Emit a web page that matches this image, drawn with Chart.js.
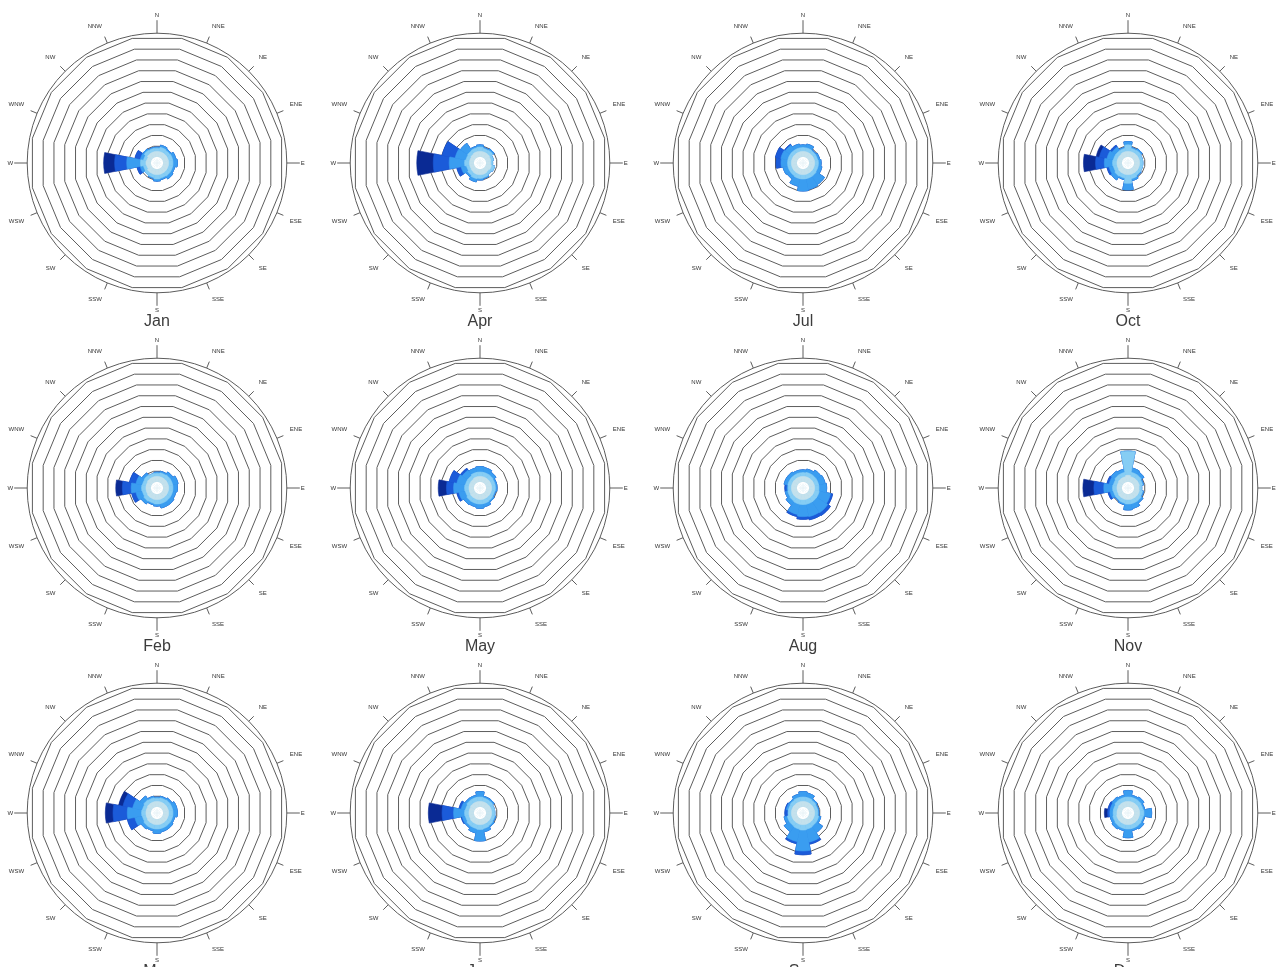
<!DOCTYPE html>
<html>
<head>
<meta charset="utf-8">
<title>Monthly wind roses</title>
<script src="https://cdn.jsdelivr.net/npm/chart.js@4.4.1/dist/chart.umd.min.js"></script>
<style>
  html, body { margin: 0; padding: 0; background: #fff; width: 1280px; height: 967px; overflow: hidden; }
  .cell { position: absolute; width: 302px; height: 302px; }
  .cell canvas { position: absolute; left: 0; top: 0; }
  .month { position: absolute; width: 120px; height: 20px; line-height: 20px; text-align: center;
           font: 16px "Liberation Sans", Arial, sans-serif; color: #3c3c3c; }
</style>
</head>
<body>
<script>
// Compass sectors, clockwise from north
const DIRECTIONS = ['N', 'NNE', 'NE', 'ENE', 'E', 'ESE', 'SE', 'SSE',
                    'S', 'SSW', 'SW', 'WSW', 'W', 'WNW', 'NW', 'NNW'];

// Wind-speed classes, calm to strong
const SPEED_BINS = ['0-2 m/s', '2-4 m/s', '4-6 m/s', '6-8 m/s', '>8 m/s'];
const BIN_COLORS = ['#c4e1ec', '#86cdf4', '#3a9df0', '#1b5bd9', '#0a2a94'];

// Frequency (%) per speed class (rows) and direction (columns)
const JAN = [
  [.5, .5, .5, .5, .5, .5, .5, .5, .5, .5, .5, .4, .45, .4, .5, .5],
  [.3, .4, .35, .4, .4, .4, .4, .35, .4, .3, .3, .3, .5, .3, .35, .3],
  [.1, .2, .15, .3, .4, .2, .3, .15, .2, .1, 0, .3, 1.25, .3, .15, .1],
  [0, 0, 0, 0, 0, 0, 0, 0, 0, 0, 0, .3, 1.1, .5, 0, 0],
  [0, 0, 0, 0, 0, 0, 0, 0, 0, 0, 0, 0, 1.0, 0, 0, 0]
];
const FEB = [
  [.5, .5, .5, .5, .5, .5, .5, .5, .5, .5, .5, .45, .45, .45, .5, .5],
  [.3, .35, .4, .4, .4, .4, .4, .4, .4, .35, .4, .35, .4, .35, .35, .3],
  [.1, .15, .3, .5, .4, .3, .4, .4, .2, .15, .3, .6, .95, .6, .25, 0],
  [0, 0, 0, 0, 0, 0, 0, 0, 0, 0, 0, .4, .8, .6, 0, 0],
  [0, 0, 0, 0, 0, 0, 0, 0, 0, 0, 0, 0, .6, 0, 0, 0]
];
const MAR = [
  [.5, .5, .5, .5, .5, .5, .5, .5, .5, .5, .5, .45, .45, .45, .5, .5],
  [.3, .35, .4, .4, .4, .4, .4, .4, .4, .4, .4, .35, .4, .35, .4, .35],
  [.1, .15, .2, .4, .4, .2, .3, .3, .4, .2, .3, .7, 1.3, .9, .4, .15],
  [0, 0, 0, 0, 0, 0, 0, 0, 0, 0, 0, .7, 1.3, .9, 0, 0],
  [0, 0, 0, 0, 0, 0, 0, 0, 0, 0, 0, 0, .7, .4, 0, 0]
];
const APR = [
  [.5, .5, .5, .45, .4, .5, .45, .5, .5, .5, .45, .4, .4, .4, .45, .5],
  [.4, .3, .35, .25, .2, .3, .25, .3, .35, .4, .35, .3, .45, .35, .35, .35],
  [.2, .1, .15, 0, 0, 0, 0, .1, .15, .3, .2, .5, 1.4, 1.0, .8, .15],
  [0, 0, 0, 0, 0, 0, 0, 0, 0, 0, 0, .4, 1.45, 1.2, 0, 0],
  [0, 0, 0, 0, 0, 0, 0, 0, 0, 0, 0, 0, 1.5, 0, 0, 0]
];
const MAY = [
  [.5, .5, .5, .5, .5, .5, .5, .5, .5, .5, .5, .45, .45, .45, .45, .5],
  [.4, .4, .4, .35, .35, .3, .35, .4, .4, .4, .4, .35, .4, .35, .35, .4],
  [.5, .45, .3, .15, .15, .1, .15, .3, .4, .3, .35, .6, 1.0, .8, .6, .4],
  [0, 0, 0, 0, 0, 0, 0, 0, 0, 0, 0, .2, .65, .7, .2, 0],
  [0, 0, 0, 0, 0, 0, 0, 0, 0, 0, 0, 0, .75, 0, 0, 0]
];
const JUN = [
  [.5, .5, .5, .5, .5, .5, .5, .5, .5, .5, .5, .45, .45, .45, .5, .5],
  [.4, .35, .35, .3, .3, .3, .35, .4, .45, .4, .4, .35, .4, .35, .4, .4],
  [.5, .15, .15, 0, 0, .1, .15, .3, 1.05, .4, .2, .3, 1.0, .4, .2, .2],
  [0, 0, 0, 0, 0, 0, 0, 0, 0, 0, 0, .1, 1.05, .2, 0, 0],
  [0, 0, 0, 0, 0, 0, 0, 0, 0, 0, 0, 0, 1.25, 0, 0, 0]
];
const JUL = [
  [.5, .5, .5, .5, .5, .5, .5, .5, .5, .5, .5, .5, .5, .5, .5, .5],
  [.35, .35, .3, .3, .35, .35, .4, .4, .4, .4, .35, .35, .35, .35, .35, .35],
  [.25, .35, .1, .2, .25, .35, .9, 1.0, 1.1, .7, .35, .45, .6, .65, .55, .35],
  [0, 0, 0, 0, 0, 0, 0, 0, 0, 0, 0, 0, .45, .5, .1, 0],
  [0, 0, 0, 0, 0, 0, 0, 0, 0, 0, 0, 0, 0, 0, 0, 0]
];
const AUG = [
  [.5, .5, .5, .5, .5, .5, .5, .5, .5, .5, .5, .5, .5, .5, .5, .5],
  [.35, .4, .4, .4, .4, .45, .45, .45, .45, .45, .4, .35, .3, .35, .35, .35],
  [.25, .3, .5, .6, .7, 1.05, 1.2, 1.15, 1.1, .95, .4, .25, .1, .35, .35, .25],
  [0, 0, 0, 0, 0, .2, .3, .3, .25, .2, 0, 0, .2, 0, 0, 0],
  [0, 0, 0, 0, 0, 0, 0, 0, 0, 0, 0, 0, 0, 0, 0, 0]
];
const SEP = [
  [.5, .5, .5, .5, .5, .5, .5, .5, .5, .5, .5, .5, .5, .5, .5, .5],
  [.4, .4, .35, .3, .3, .4, .4, .45, .5, .45, .4, .4, .3, .3, .35, .4],
  [.5, .4, .15, .1, .1, .2, .7, 1.2, 1.9, 1.15, .6, .3, 0, .2, .15, .3],
  [0, 0, 0, 0, 0, 0, 0, .2, .35, .2, 0, 0, .3, .1, 0, 0],
  [0, 0, 0, 0, 0, 0, 0, 0, 0, 0, 0, 0, 0, 0, 0, 0]
];
const OCT = [
  [.5, .5, .5, .5, .5, .5, .5, .5, .5, .5, .5, .45, .45, .45, .45, .5],
  [.6, .3, .35, .3, .3, .3, .3, .4, .8, .35, .4, .35, .4, .35, .35, .3],
  [.3, .1, .15, 0, 0, 0, .1, .2, .6, .15, .4, .4, .75, .6, .4, .1],
  [0, 0, 0, 0, 0, 0, 0, 0, 0, 0, 0, .2, .8, .7, .2, 0],
  [0, 0, 0, 0, 0, 0, 0, 0, 0, 0, 0, 0, 1.1, .3, 0, 0]
];
const NOV = [
  [.6, .5, .5, .5, .45, .5, .5, .5, .5, .5, .5, .45, .45, .45, .5, .5],
  [2.2, .4, .4, .3, .25, .3, .4, .4, .4, .35, .3, .35, .4, .35, .4, .4],
  [0, .4, .3, .1, 0, .1, .2, .45, .55, .15, .1, .3, .8, .4, .4, .3],
  [0, 0, 0, 0, 0, 0, 0, 0, 0, 0, 0, .2, .9, .2, 0, 0],
  [0, 0, 0, 0, 0, 0, 0, 0, 0, 0, 0, 0, 1.0, 0, 0, 0]
];
const DEC = [
  [.5, .5, .5, .5, .5, .5, .5, .5, .5, .5, .5, .5, .45, .45, .5, .5],
  [.4, .4, .4, .35, .4, .35, .4, .4, .4, .4, .4, .35, .35, .35, .4, .4],
  [.6, .2, .3, .15, .7, .15, .3, .2, .8, .2, .3, .25, .3, .3, .3, .2],
  [0, 0, 0, 0, 0, 0, 0, 0, 0, 0, 0, 0, .2, .2, 0, 0],
  [0, 0, 0, 0, 0, 0, 0, 0, 0, 0, 0, 0, .3, 0, 0, 0]
];

const MONTHS = ['Jan', 'Feb', 'Mar', 'Apr', 'May', 'Jun', 'Jul', 'Aug', 'Sep', 'Oct', 'Nov', 'Dec'];
const MONTH_TABLES = [JAN, FEB, MAR, APR, MAY, JUN, JUL, AUG, SEP, OCT, NOV, DEC];

// Radial axis: a calm hole around the centre, one ring per percent, outer circle at the max
const R_MIN = -0.55;
const R_MAX = 11.25;
const RING_VALUES = [1, 2, 3, 4, 5, 6, 7, 8, 9, 10, 11];

// Page grid: months run down each column
const COL_X = [157, 480, 803, 1128];
const ROW_Y = [163, 488, 813];
const HALF = 151;

Chart.defaults.font.family = '"Liberation Sans", Arial, sans-serif';

// Running totals so each speed class sits on top of the slower ones
function stackedRadii(table) {
  let run = DIRECTIONS.map(() => 0);
  return table.map(row => (run = run.map((v, i) => v + row[i])));
}

// Short compass marks outside the outer circle, one per direction
const compassTicks = {
  id: 'compassTicks',
  afterDraw(chart) {
    const s = chart.scales.r;
    const ctx = chart.ctx;
    const n = DIRECTIONS.length;
    const R = s.getDistanceFromCenterForValue(R_MAX);
    ctx.save();
    ctx.strokeStyle = '#4a4a4a';
    ctx.lineWidth = 0.9;
    for (let i = 0; i < n; i++) {
      const len = i % 4 === 0 ? 13 : 7;
      const a = s.getPointPosition(i, R, Math.PI / n);
      const b = s.getPointPosition(i, R + len, Math.PI / n);
      ctx.beginPath();
      ctx.moveTo(a.x, a.y);
      ctx.lineTo(b.x, b.y);
      ctx.stroke();
    }
    ctx.restore();
  }
};

MONTHS.forEach((name, m) => {
  const col = Math.floor(m / 3);
  const row = m % 3;
  const cx = COL_X[col];
  const cy = ROW_Y[row];

  const cell = document.createElement('div');
  cell.className = 'cell';
  cell.style.left = (cx - HALF) + 'px';
  cell.style.top = (cy - HALF) + 'px';
  const canvas = document.createElement('canvas');
  canvas.width = HALF * 2;
  canvas.height = HALF * 2;
  cell.appendChild(canvas);
  document.body.appendChild(cell);

  const label = document.createElement('div');
  label.className = 'month';
  label.textContent = name;
  label.style.left = (cx - 60) + 'px';
  label.style.top = (cy + 149) + 'px';
  document.body.appendChild(label);

  const stacks = stackedRadii(MONTH_TABLES[m]);
  const datasets = [{
    label: 'calm',
    data: DIRECTIONS.map(() => 0),
    backgroundColor: '#ffffff',
    borderWidth: 0
  }].concat(stacks.map((vals, b) => ({
    label: SPEED_BINS[b],
    data: vals,
    backgroundColor: BIN_COLORS[b],
    borderColor: BIN_COLORS[b],
    borderWidth: 0.6
  })));

  new Chart(canvas, {
    type: 'polarArea',
    data: { labels: DIRECTIONS, datasets },
    options: {
      responsive: false,
      animation: false,
      events: [],
      layout: { padding: 0 },
      plugins: { legend: { display: false }, tooltip: { enabled: false } },
      scales: {
        r: {
          min: R_MIN,
          max: R_MAX,
          startAngle: -180 / DIRECTIONS.length,
          ticks: { display: false },
          afterBuildTicks: s => { s.ticks = RING_VALUES.concat([R_MAX]).map(v => ({ value: v })); },
          grid: {
            color: '#5c5c5c',
            lineWidth: 1,
            circular: c => !!c.tick && c.tick.value === R_MAX
          },
          angleLines: { display: false },
          pointLabels: {
            display: true,
            centerPointLabels: true,
            padding: 14,
            color: '#333',
            font: { size: 6 }
          }
        }
      }
    },
    plugins: [compassTicks]
  });
});
</script>
</body>
</html>
